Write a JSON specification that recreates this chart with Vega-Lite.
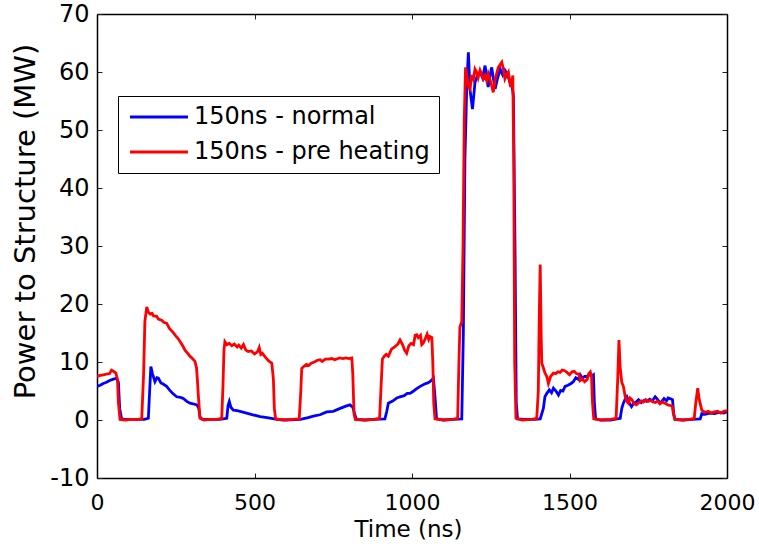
{
  "$schema": "https://vega.github.io/schema/vega-lite/v6.json",
  "autosize": "none",
  "width": 630,
  "height": 464,
  "padding": {"left": 97, "top": 14, "right": 32, "bottom": 73},
  "background": "white",
  "config": {
    "view": {"stroke": null},
    "font": "DejaVu Sans",
    "axis": {
      "grid": false,
      "domainColor": "black",
      "domainWidth": 1.5,
      "tickColor": "#222222",
      "tickWidth": 1,
      "tickSize": -5,
      "labelFlush": false,
      "labelFont": "DejaVu Sans",
      "labelFontSize": 24,
      "labelColor": "black",
      "titleFont": "DejaVu Sans",
      "titleFontSize": 24,
      "titleFontWeight": "normal",
      "titleColor": "black"
    }
  },
  "datasets": {
    "normal": [
      {"t":0,"p":5.8},{"t":10,"p":6.0},{"t":20,"p":6.3},{"t":30,"p":6.5},{"t":40,"p":6.8},{"t":50,"p":7.0},{"t":62,"p":7.2},{"t":68,"p":6.5},{"t":72,"p":2},{"t":78,"p":0.2},{"t":90,"p":0.1},{"t":120,"p":0.1},{"t":150,"p":0.1},{"t":163,"p":0.3},{"t":168,"p":6},{"t":171,"p":9.2},{"t":176,"p":8},{"t":184,"p":6.6},{"t":190,"p":7.3},{"t":195,"p":7.2},{"t":203,"p":6.4},{"t":210,"p":6.2},{"t":221,"p":5.8},{"t":230,"p":5.2},{"t":240,"p":4.6},{"t":253,"p":4.0},{"t":265,"p":3.9},{"t":274,"p":3.7},{"t":285,"p":3.2},{"t":295,"p":2.9},{"t":305,"p":2.8},{"t":317,"p":2.6},{"t":323,"p":2.0},{"t":327,"p":0.5},{"t":335,"p":0.1},{"t":360,"p":0.1},{"t":390,"p":0.1},{"t":412,"p":0.3},{"t":416,"p":2.5},{"t":420,"p":3.2},{"t":425,"p":2.2},{"t":433,"p":1.7},{"t":445,"p":1.6},{"t":460,"p":1.4},{"t":475,"p":1.2},{"t":495,"p":0.9},{"t":518,"p":0.6},{"t":540,"p":0.4},{"t":571,"p":0.1},{"t":600,"p":0.0},{"t":646,"p":0.1},{"t":670,"p":0.4},{"t":690,"p":0.7},{"t":708,"p":0.9},{"t":729,"p":1.4},{"t":750,"p":1.5},{"t":772,"p":2.0},{"t":790,"p":2.4},{"t":803,"p":2.6},{"t":812,"p":2.2},{"t":818,"p":1.0},{"t":824,"p":0.1},{"t":850,"p":0.0},{"t":880,"p":0.1},{"t":914,"p":0.2},{"t":920,"p":1.5},{"t":925,"p":2.9},{"t":940,"p":3.3},{"t":952,"p":3.8},{"t":962,"p":4.0},{"t":975,"p":4.2},{"t":985,"p":4.6},{"t":994,"p":4.6},{"t":1005,"p":5.0},{"t":1015,"p":5.4},{"t":1026,"p":5.8},{"t":1040,"p":6.2},{"t":1050,"p":6.4},{"t":1057,"p":6.6},{"t":1068,"p":7.2},{"t":1073,"p":4},{"t":1078,"p":0.2},{"t":1100,"p":0.0},{"t":1130,"p":0.1},{"t":1158,"p":0.2},{"t":1163,"p":15},{"t":1168,"p":45},{"t":1174,"p":58},{"t":1179,"p":63.4},{"t":1184,"p":57},{"t":1192,"p":53.6},{"t":1200,"p":58.2},{"t":1208,"p":59.5},{"t":1216,"p":60},{"t":1224,"p":59},{"t":1232,"p":61.1},{"t":1242,"p":57.4},{"t":1248,"p":59.5},{"t":1253,"p":60.8},{"t":1258,"p":59},{"t":1264,"p":57.1},{"t":1272,"p":59},{"t":1280,"p":60.5},{"t":1288,"p":59.5},{"t":1295,"p":60.3},{"t":1303,"p":59.6},{"t":1311,"p":58.2},{"t":1318,"p":57.5},{"t":1322,"p":55.9},{"t":1327,"p":30},{"t":1331,"p":3},{"t":1335,"p":0.2},{"t":1360,"p":0.1},{"t":1390,"p":0.1},{"t":1407,"p":0.2},{"t":1417,"p":2},{"t":1422,"p":4},{"t":1428,"p":4.6},{"t":1436,"p":5.2},{"t":1443,"p":4.7},{"t":1449,"p":5.5},{"t":1457,"p":5.0},{"t":1465,"p":4.3},{"t":1472,"p":5.1},{"t":1479,"p":5.0},{"t":1486,"p":5.8},{"t":1495,"p":6.0},{"t":1505,"p":6.3},{"t":1512,"p":6.6},{"t":1520,"p":7.3},{"t":1528,"p":7.0},{"t":1534,"p":7.8},{"t":1541,"p":7.2},{"t":1548,"p":7.5},{"t":1555,"p":7.5},{"t":1562,"p":7.8},{"t":1570,"p":7.6},{"t":1576,"p":7.8},{"t":1579,"p":3},{"t":1583,"p":0.2},{"t":1600,"p":0.0},{"t":1630,"p":0.0},{"t":1661,"p":0.3},{"t":1666,"p":2},{"t":1671,"p":2.9},{"t":1676,"p":3.5},{"t":1682,"p":4.0},{"t":1689,"p":3.0},{"t":1697,"p":2.3},{"t":1705,"p":3.0},{"t":1712,"p":3.1},{"t":1719,"p":3.5},{"t":1728,"p":3.0},{"t":1737,"p":3.4},{"t":1745,"p":3.2},{"t":1755,"p":3.6},{"t":1763,"p":3.3},{"t":1772,"p":4.0},{"t":1780,"p":3.5},{"t":1787,"p":3.0},{"t":1793,"p":3.2},{"t":1800,"p":3.7},{"t":1808,"p":3.3},{"t":1813,"p":3.8},{"t":1819,"p":3.7},{"t":1827,"p":3.5},{"t":1831,"p":1},{"t":1835,"p":0.1},{"t":1860,"p":0.0},{"t":1890,"p":0.1},{"t":1915,"p":0.2},{"t":1920,"p":1.1},{"t":1930,"p":1.0},{"t":1945,"p":1.2},{"t":1960,"p":1.1},{"t":1975,"p":1.3},{"t":1990,"p":1.2},{"t":2000,"p":1.4}
    ],
    "pre": [
      {"t":0,"p":7.5},{"t":10,"p":7.7},{"t":20,"p":7.8},{"t":30,"p":7.9},{"t":40,"p":8.0},{"t":46,"p":8.6},{"t":52,"p":8.4},{"t":60,"p":8.1},{"t":65,"p":7.0},{"t":68,"p":3},{"t":73,"p":0.1},{"t":90,"p":0.0},{"t":110,"p":0.1},{"t":130,"p":0.1},{"t":142,"p":0.2},{"t":148,"p":8},{"t":152,"p":17},{"t":158,"p":19.5},{"t":163,"p":18.6},{"t":168,"p":18.3},{"t":175,"p":18.4},{"t":180,"p":17.9},{"t":189,"p":17.9},{"t":195,"p":17.4},{"t":205,"p":17.2},{"t":213,"p":16.8},{"t":221,"p":16.7},{"t":230,"p":15.8},{"t":240,"p":15.2},{"t":250,"p":14.5},{"t":258,"p":14.0},{"t":264,"p":13.5},{"t":272,"p":12.8},{"t":280,"p":12.0},{"t":288,"p":11.5},{"t":295,"p":11.0},{"t":303,"p":10.6},{"t":311,"p":10.1},{"t":316,"p":9},{"t":318,"p":7.5},{"t":322,"p":4},{"t":327,"p":0.3},{"t":340,"p":0.0},{"t":360,"p":0.1},{"t":380,"p":0.1},{"t":396,"p":0.3},{"t":400,"p":6},{"t":403,"p":12},{"t":406,"p":13.5},{"t":412,"p":13.0},{"t":420,"p":13.2},{"t":428,"p":12.8},{"t":436,"p":13.1},{"t":445,"p":12.6},{"t":450,"p":12.9},{"t":458,"p":12.4},{"t":465,"p":13.0},{"t":472,"p":12.1},{"t":480,"p":11.8},{"t":490,"p":11.9},{"t":500,"p":11.4},{"t":510,"p":11.8},{"t":515,"p":12.5},{"t":520,"p":11.3},{"t":525,"p":11.5},{"t":535,"p":10.8},{"t":545,"p":10.2},{"t":555,"p":9.8},{"t":560,"p":7},{"t":563,"p":2},{"t":567,"p":0.2},{"t":590,"p":0.0},{"t":620,"p":0.1},{"t":642,"p":0.2},{"t":647,"p":5},{"t":650,"p":8.9},{"t":658,"p":9.3},{"t":665,"p":9.6},{"t":672,"p":9.4},{"t":680,"p":9.8},{"t":690,"p":10.0},{"t":700,"p":10.3},{"t":708,"p":10.4},{"t":715,"p":10.1},{"t":725,"p":10.5},{"t":735,"p":10.5},{"t":745,"p":10.6},{"t":755,"p":10.4},{"t":765,"p":10.6},{"t":771,"p":10.7},{"t":780,"p":10.6},{"t":790,"p":10.7},{"t":800,"p":10.6},{"t":809,"p":10.7},{"t":812,"p":8},{"t":816,"p":1},{"t":820,"p":0.1},{"t":850,"p":0.0},{"t":880,"p":0.1},{"t":897,"p":0.3},{"t":902,"p":6},{"t":906,"p":10.5},{"t":912,"p":11.0},{"t":918,"p":11.3},{"t":925,"p":11.0},{"t":935,"p":12.2},{"t":945,"p":12.6},{"t":955,"p":13.1},{"t":962,"p":13.8},{"t":970,"p":13.0},{"t":977,"p":12.0},{"t":983,"p":11.5},{"t":990,"p":12.8},{"t":997,"p":13.2},{"t":1005,"p":13.0},{"t":1010,"p":14.6},{"t":1015,"p":14.7},{"t":1020,"p":14.2},{"t":1027,"p":14.6},{"t":1031,"p":13.0},{"t":1036,"p":13.3},{"t":1042,"p":14.0},{"t":1048,"p":14.8},{"t":1053,"p":13.9},{"t":1057,"p":14.4},{"t":1063,"p":14.2},{"t":1066,"p":10},{"t":1069,"p":3},{"t":1073,"p":0.2},{"t":1100,"p":0.0},{"t":1130,"p":0.1},{"t":1145,"p":0.3},{"t":1149,"p":10},{"t":1152,"p":16},{"t":1158,"p":17},{"t":1162,"p":30},{"t":1166,"p":52},{"t":1170,"p":60.8},{"t":1174,"p":59.5},{"t":1179,"p":57.5},{"t":1184,"p":57.1},{"t":1190,"p":59.5},{"t":1195,"p":58.8},{"t":1200,"p":60.5},{"t":1205,"p":60.0},{"t":1210,"p":59.0},{"t":1216,"p":60.3},{"t":1222,"p":59.5},{"t":1227,"p":58.8},{"t":1232,"p":59.3},{"t":1237,"p":58.5},{"t":1242,"p":59.7},{"t":1250,"p":58.3},{"t":1258,"p":56.5},{"t":1265,"p":59.0},{"t":1270,"p":60.0},{"t":1274,"p":60.8},{"t":1280,"p":61.3},{"t":1285,"p":61.7},{"t":1290,"p":60.5},{"t":1295,"p":58.8},{"t":1300,"p":59.4},{"t":1306,"p":60.0},{"t":1310,"p":58.5},{"t":1313,"p":57.4},{"t":1317,"p":58.2},{"t":1320,"p":59.4},{"t":1323,"p":45},{"t":1326,"p":10},{"t":1330,"p":0.3},{"t":1350,"p":0.0},{"t":1380,"p":0.1},{"t":1396,"p":0.3},{"t":1401,"p":5},{"t":1404,"p":18},{"t":1407,"p":26.8},{"t":1410,"p":15},{"t":1412,"p":9.8},{"t":1417,"p":9.0},{"t":1422,"p":8.1},{"t":1428,"p":7.5},{"t":1433,"p":6.3},{"t":1440,"p":7.5},{"t":1449,"p":8.1},{"t":1456,"p":8.0},{"t":1463,"p":8.3},{"t":1470,"p":8.2},{"t":1477,"p":8.6},{"t":1485,"p":8.5},{"t":1492,"p":8.2},{"t":1500,"p":7.8},{"t":1508,"p":8.3},{"t":1515,"p":8.4},{"t":1522,"p":8.0},{"t":1530,"p":7.9},{"t":1534,"p":6.8},{"t":1540,"p":7.1},{"t":1548,"p":6.6},{"t":1556,"p":7.0},{"t":1561,"p":8.0},{"t":1566,"p":8.3},{"t":1570,"p":7.5},{"t":1573,"p":3},{"t":1577,"p":0.2},{"t":1600,"p":0.0},{"t":1630,"p":0.1},{"t":1648,"p":0.3},{"t":1653,"p":7},{"t":1657,"p":13.8},{"t":1661,"p":9},{"t":1666,"p":6.5},{"t":1671,"p":5.8},{"t":1677,"p":4.0},{"t":1682,"p":3.2},{"t":1687,"p":2.9},{"t":1692,"p":3.8},{"t":1698,"p":3.5},{"t":1705,"p":2.8},{"t":1712,"p":2.6},{"t":1720,"p":3.0},{"t":1728,"p":3.3},{"t":1735,"p":3.1},{"t":1742,"p":3.5},{"t":1750,"p":3.2},{"t":1758,"p":3.4},{"t":1765,"p":3.1},{"t":1773,"p":3.0},{"t":1780,"p":3.3},{"t":1787,"p":2.8},{"t":1795,"p":3.1},{"t":1803,"p":2.9},{"t":1812,"p":2.6},{"t":1820,"p":2.5},{"t":1826,"p":2.4},{"t":1830,"p":1},{"t":1835,"p":0.1},{"t":1860,"p":0.0},{"t":1880,"p":0.1},{"t":1896,"p":0.3},{"t":1901,"p":3},{"t":1907,"p":5.5},{"t":1912,"p":3.5},{"t":1920,"p":1.7},{"t":1930,"p":1.3},{"t":1940,"p":1.5},{"t":1950,"p":1.2},{"t":1960,"p":1.4},{"t":1970,"p":1.5},{"t":1980,"p":1.2},{"t":1990,"p":1.5},{"t":2000,"p":1.6}
    ]
  },
  "layer": [
    {
      "data": {"name": "normal"},
      "mark": {"type": "line", "strokeWidth": 2.8, "clip": true},
      "encoding": {
        "x": {"field": "t", "type": "quantitative",
              "scale": {"domain": [0, 2000], "nice": false, "zero": false},
              "axis": {"orient": "bottom", "title": "Time (ns)", "values": [0, 500, 1000, 1500, 2000],
                       "labelExpr": "'' + datum.value", "labelPadding": 19, "labelFlush": false,
                       "labelFontSize": 22, "titleFontSize": 23,
                       "titleX": 311, "titleY": 58, "titleBaseline": "alphabetic", "titleAnchor": null}},
        "y": {"field": "p", "type": "quantitative",
              "scale": {"domain": [-10, 70], "nice": false, "zero": false},
              "axis": {"orient": "left", "title": "Power to Structure (MW)", "values": [-10, 0, 10, 20, 30, 40, 50, 60, 70],
                       "labelExpr": "'' + datum.value", "labelPadding": 13, "labelFlush": false,
                       "labelFontSize": 24,
                       "titleFontSize": 29, "titleX": -63, "titleY": 207, "titleAngle": -90,
                       "titleAlign": "center", "titleBaseline": "alphabetic", "titleAnchor": null}},
        "color": {"datum": "150ns - normal", "type": "nominal",
                  "scale": {"domain": ["150ns - normal", "150ns - pre heating"], "range": ["#0000FF", "#FF0000"]},
                  "legend": {"title": null, "orient": "none", "legendX": 21, "legendY": 82,
                             "symbolType": "M-4,0H4", "symbolSize": 210, "symbolStrokeWidth": 3,
                             "symbolOffset": 20,
                             "labelFont": "DejaVu Sans", "labelFontSize": 24, "labelColor": "black",
                             "strokeColor": "black", "fillColor": "white", "padding": 9,
                             "rowPadding": 11, "labelOffset": 23, "labelLimit": 400, "cornerRadius": 0}}
      }
    },
    {
      "data": {"name": "pre"},
      "mark": {"type": "line", "strokeWidth": 2.8, "clip": true},
      "encoding": {
        "x": {"field": "t", "type": "quantitative",
              "scale": {"domain": [0, 2000], "nice": false, "zero": false},
              "axis": {"orient": "top", "title": null, "labels": false, "values": [0, 500, 1000, 1500, 2000]}},
        "y": {"field": "p", "type": "quantitative",
              "scale": {"domain": [-10, 70], "nice": false, "zero": false},
              "axis": {"orient": "right", "title": null, "labels": false, "values": [-10, 0, 10, 20, 30, 40, 50, 60, 70]}},
        "color": {"datum": "150ns - pre heating", "type": "nominal"}
      }
    }
  ],
  "resolve": {"axis": {"x": "independent", "y": "independent"}}
}
